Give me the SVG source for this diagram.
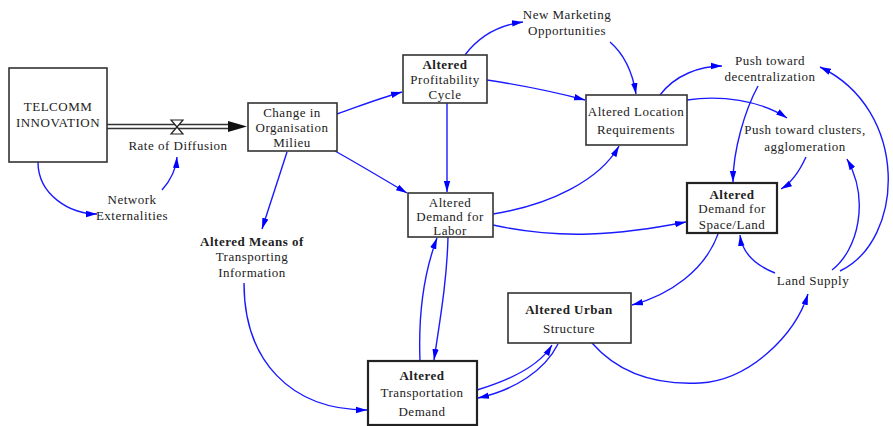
<svg xmlns="http://www.w3.org/2000/svg" width="893" height="426" viewBox="0 0 893 426">
<style>
text{font-family:'Liberation Serif','DejaVu Serif',serif;font-size:13px;fill:#222;text-anchor:middle;letter-spacing:0.5px}
.b{font-weight:bold}
.box{fill:#fff;stroke:#333;stroke-width:1.6}
.box2{fill:#fff;stroke:#222;stroke-width:2.2}
.c{fill:none;stroke:#1a1aff;stroke-width:1.4;marker-end:url(#ah)}
</style>
<defs>
<marker id="ah" markerUnits="userSpaceOnUse" markerWidth="12" markerHeight="8" refX="11" refY="4" orient="auto">
<path d="M0,0.8 L11,4 L0,7.2 Z" fill="#0000ff"/>
</marker>
</defs>
<rect width="893" height="426" fill="#fff"/>
<g id="connectors">
<path class="c" d="M38,162 C38,195 70,214 97,214"/>
<path class="c" d="M162,190 C170,181 176,170 177,157"/>
<path class="c" d="M337,114 C360,106 380,98 402,92"/>
<path class="c" d="M335,151 C360,165 385,180 407,193"/>
<path class="c" d="M287,152 L262,229"/>
<path class="c" d="M465,55 C480,35 500,25 523,22"/>
<path class="c" d="M610,42 C625,55 633,75 636,94"/>
<path class="c" d="M487,80 C520,85 555,92 585,100"/>
<path class="c" d="M447,103 L447,192"/>
<path class="c" d="M493,214 C550,205 600,180 619,146"/>
<path class="c" d="M493,225 C560,240 620,235 686,222"/>
<path class="c" d="M660,95 C675,75 700,66 722,66"/>
<path class="c" d="M687,100 C720,95 760,100 787,118"/>
<path class="c" d="M758,86 C745,110 733,150 733,182"/>
<path class="c" d="M806,157 C800,170 793,182 781,189"/>
<path class="c" d="M775,273 C755,265 742,252 740,235"/>
<path class="c" d="M832,270 C858,250 870,200 847,159"/>
<path class="c" d="M840,271 C905,240 910,110 820,67"/>
<path class="c" d="M718,234 C705,270 670,295 632,305"/>
<path class="c" d="M592,343 C620,375 660,385 700,383 C750,380 795,335 808,294"/>
<path class="c" d="M477,390 C510,380 540,365 552,345"/>
<path class="c" d="M558,344 C545,370 515,390 478,398"/>
<path class="c" d="M420,361 C418,310 425,270 437,238"/>
<path class="c" d="M448,237 C447,280 440,320 434,360"/>
<path class="c" d="M244,283 C244,360 290,410 367,410"/>
</g>
<g id="flow-rate-of-diffusion">
<line x1="107" y1="124.5" x2="232" y2="124.5" stroke="#333" stroke-width="1.3"/>
<line x1="107" y1="128.5" x2="232" y2="128.5" stroke="#333" stroke-width="1.3"/>
<path d="M228,121 L247,126.5 L228,132 Z" fill="#111"/>
<path d="M171,120 L183,120 L171,134 L183,134 Z" fill="#fff" stroke="#222" stroke-width="1.2"/>
<text x="178" y="150" font-family="Liberation Serif, DejaVu Serif, serif">Rate of Diffusion</text>
</g>
<g id="telcomm">
<rect class="box" x="9" y="68" width="98" height="94"/>
<text x="58" y="111" font-family="Liberation Serif, DejaVu Serif, serif">TELCOMM</text>
<text x="58" y="127" font-family="Liberation Serif, DejaVu Serif, serif">INNOVATION</text>
</g>
<g id="change-milieu">
<rect class="box" x="248" y="103" width="89" height="48"/>
<text x="292" y="117" font-family="Liberation Serif, DejaVu Serif, serif">Change in</text>
<text x="292" y="132" font-family="Liberation Serif, DejaVu Serif, serif">Organisation</text>
<text x="292" y="147" font-family="Liberation Serif, DejaVu Serif, serif">Milieu</text>
</g>
<g id="network-externalities">
<text x="132" y="204" font-family="Liberation Serif, DejaVu Serif, serif">Network</text>
<text x="132" y="220" font-family="Liberation Serif, DejaVu Serif, serif">Externalities</text>
</g>
<g id="profitability">
<rect class="box" x="403" y="55" width="84" height="48"/>
<text class="b" x="445" y="69" font-family="Liberation Serif, DejaVu Serif, serif">Altered</text>
<text x="445" y="84" font-family="Liberation Serif, DejaVu Serif, serif">Profitability</text>
<text x="445" y="99" font-family="Liberation Serif, DejaVu Serif, serif">Cycle</text>
</g>
<g id="new-marketing">
<text x="567" y="19" font-family="Liberation Serif, DejaVu Serif, serif">New Marketing</text>
<text x="567" y="35" font-family="Liberation Serif, DejaVu Serif, serif">Opportunities</text>
</g>
<g id="location">
<rect class="box" x="586" y="95" width="101" height="50" stroke-width="1.9"/>
<text x="636" y="116" font-family="Liberation Serif, DejaVu Serif, serif">Altered Location</text>
<text x="636" y="134" font-family="Liberation Serif, DejaVu Serif, serif">Requirements</text>
</g>
<g id="labor">
<rect class="box" x="408" y="193" width="85" height="44"/>
<text x="450" y="207" font-family="Liberation Serif, DejaVu Serif, serif">Altered</text>
<text x="450" y="221" font-family="Liberation Serif, DejaVu Serif, serif">Demand for</text>
<text x="450" y="235" font-family="Liberation Serif, DejaVu Serif, serif">Labor</text>
</g>
<g id="means">
<text class="b" x="252" y="246" font-family="Liberation Serif, DejaVu Serif, serif">Altered Means of</text>
<text x="252" y="261" font-family="Liberation Serif, DejaVu Serif, serif">Transporting</text>
<text x="252" y="277" font-family="Liberation Serif, DejaVu Serif, serif">Information</text>
</g>
<g id="transportation">
<rect class="box2" x="368" y="361" width="109" height="64"/>
<text class="b" x="422" y="380" font-family="Liberation Serif, DejaVu Serif, serif">Altered</text>
<text x="422" y="397" font-family="Liberation Serif, DejaVu Serif, serif">Transportation</text>
<text x="422" y="416" font-family="Liberation Serif, DejaVu Serif, serif">Demand</text>
</g>
<g id="decentralization">
<text x="770" y="65" font-family="Liberation Serif, DejaVu Serif, serif">Push toward</text>
<text x="770" y="81" font-family="Liberation Serif, DejaVu Serif, serif">decentralization</text>
</g>
<g id="clusters">
<text x="805" y="134" font-family="Liberation Serif, DejaVu Serif, serif">Push toward clusters,</text>
<text x="805" y="151" font-family="Liberation Serif, DejaVu Serif, serif">agglomeration</text>
</g>
<g id="space-land">
<rect class="box2" x="687" y="183" width="90" height="50"/>
<text class="b" x="732" y="199" font-family="Liberation Serif, DejaVu Serif, serif">Altered</text>
<text x="732" y="213" font-family="Liberation Serif, DejaVu Serif, serif">Demand for</text>
<text x="732" y="229" font-family="Liberation Serif, DejaVu Serif, serif">Space/Land</text>
</g>
<g id="land-supply">
<text x="813" y="285" font-family="Liberation Serif, DejaVu Serif, serif">Land Supply</text>
</g>
<g id="urban">
<rect class="box" x="508" y="293" width="123" height="50"/>
<text class="b" x="569" y="314" font-family="Liberation Serif, DejaVu Serif, serif">Altered Urban</text>
<text x="569" y="333" font-family="Liberation Serif, DejaVu Serif, serif">Structure</text>
</g>
</svg>
